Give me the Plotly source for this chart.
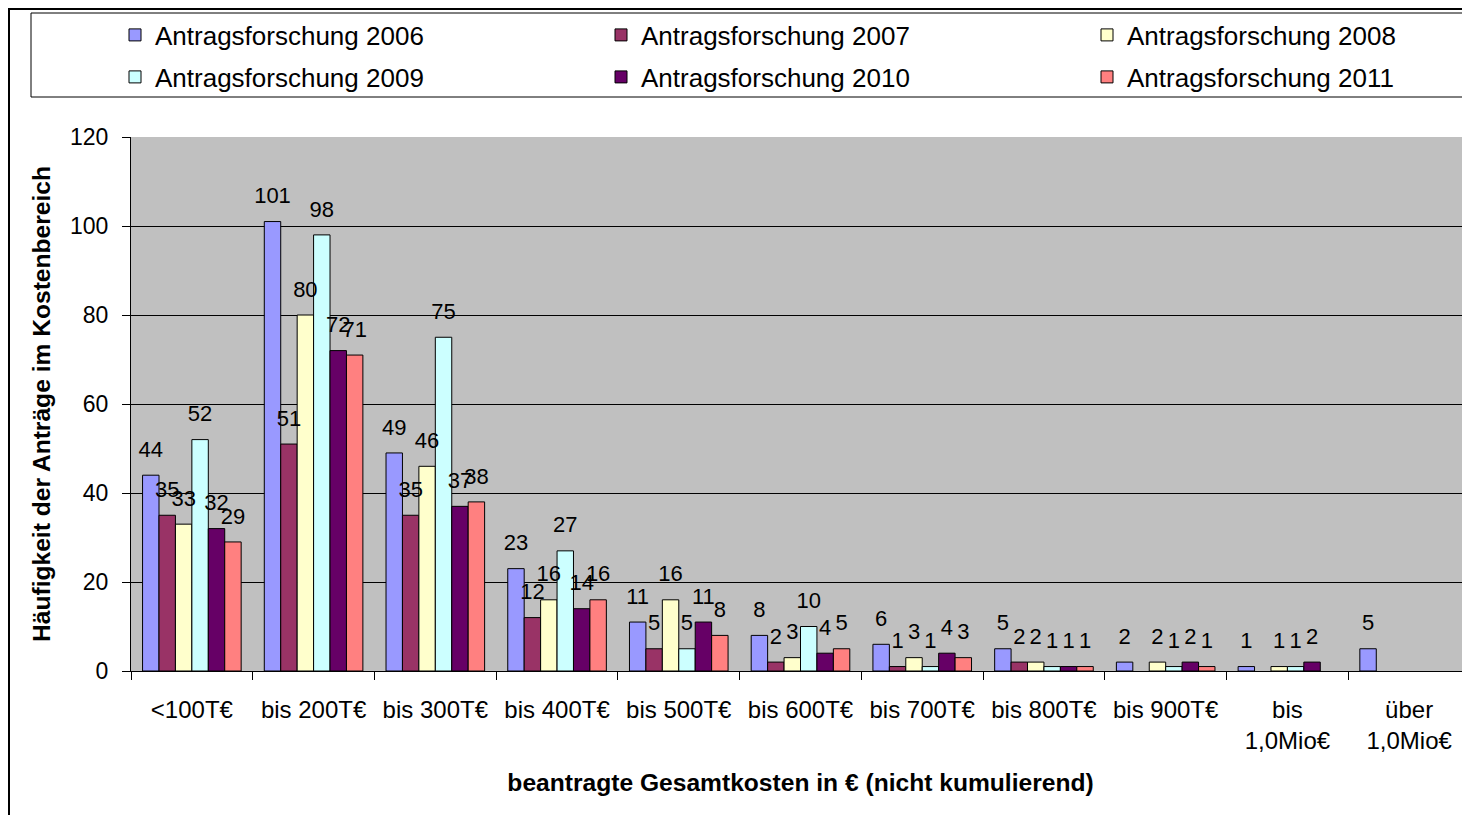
import plotly.graph_objects as go

categories = ["<100T€", "bis 200T€", "bis 300T€", "bis 400T€", "bis 500T€", "bis 600T€",
              "bis 700T€", "bis 800T€", "bis 900T€", "bis<br>1,0Mio€", "über<br>1,0Mio€"]
series_names = ["Antragsforschung 2006", "Antragsforschung 2007", "Antragsforschung 2008",
                "Antragsforschung 2009", "Antragsforschung 2010", "Antragsforschung 2011"]
v2006 = [44, 101, 49, 23, 11, 8, 6, 5, 2, 1, 5]
v2007 = [35, 51, 35, 12, 5, 2, 1, 2, None, None, None]
v2008 = [33, 80, 46, 16, 16, 3, 3, 2, 2, 1, None]
v2009 = [52, 98, 75, 27, 5, 10, 1, 1, 1, 1, None]
v2010 = [32, 72, 37, 14, 11, 4, 4, 1, 2, 2, None]
v2011 = [29, 71, 38, 16, 8, 5, 3, 1, 1, None, None]
series_values = [v2006, v2007, v2008, v2009, v2010, v2011]
colors = ["#9999FF", "#993366", "#FFFFCC", "#CCFFFF", "#660066", "#FF8080"]
y_ticks = [0, 20, 40, 60, 80, 100, 120]

# page offset (browser body margin) compensation
OFF = 8
W, H = 1470 - OFF, 815 - OFF
PL, PT, PB, PR = 131, 137, 671, 1470          # plot area in page pixels
L, T = PL - OFF, PT - OFF
B = H - (PB - OFF)
R = W - (PR - OFF)
pw, ph = PR - PL, PB - PT


def px_x(p):
    return (p - PL) / pw


def px_y(p):
    return (PB - p) / ph


FONT = "Liberation Sans, Arial, sans-serif"
GAP = 0.19

legend_names = ["legend", "legend2", "legend3", "legend4", "legend5", "legend6"]
legend_pos = [(115, 35), (601, 35), (1087, 35), (115, 77), (601, 77), (1087, 77)]

fig = go.Figure()
for i, (name, vals, col) in enumerate(zip(series_names, series_values, colors)):
    fig.add_trace(go.Bar(
        x=categories, y=vals, name=name,
        marker=dict(color=col, line=dict(color="black", width=1)),
        legend=legend_names[i],
        offsetgroup=str(i),
    ))
for i, vals in enumerate(series_values):
    fig.add_trace(go.Scatter(
        x=categories, y=vals, mode="markers+text",
        text=["" if v is None else str(v) for v in vals],
        textposition="top center",
        textfont=dict(family=FONT, size=22, color="black"),
        marker=dict(size=19, opacity=0),
        showlegend=False, hoverinfo="skip",
        offsetgroup=str(i),
        cliponaxis=False,
    ))

shapes = [
    # outer chart frame
    dict(type="rect", xref="paper", yref="paper",
         x0=px_x(9), x1=px_x(1500), y0=px_y(9), y1=px_y(850),
         line=dict(color="black", width=2), fillcolor="rgba(0,0,0,0)", layer="above"),
    # legend box
    dict(type="rect", xref="paper", yref="paper",
         x0=px_x(31), x1=px_x(1500), y0=px_y(13), y1=px_y(97),
         line=dict(color="black", width=1), fillcolor="white", layer="below"),
]

legends = {}
for ln, (lx, ly) in zip(legend_names, legend_pos):
    legends[ln] = dict(
        orientation="h", xanchor="left", yanchor="middle",
        x=px_x(lx), y=px_y(ly),
        font=dict(family=FONT, size=26, color="black"),
        bgcolor="rgba(0,0,0,0)", borderwidth=0,
    )

fig.update_layout(
    width=W, height=H,
    margin=dict(l=L, r=R, t=T, b=B, autoexpand=False),
    paper_bgcolor="white", plot_bgcolor="#C0C0C0",
    barmode="group", bargap=GAP, bargroupgap=0,
    scattermode="group", scattergap=GAP,
    font=dict(family=FONT, size=22, color="black"),
    showlegend=True,
    shapes=shapes,
    xaxis=dict(
        type="category", showline=True, linecolor="black", linewidth=1,
        ticks="outside", tickson="boundaries", ticklen=8, tickcolor="black",
        tickfont=dict(family=FONT, size=24, color="black"),
        ticklabelstandoff=17,
        showgrid=False, zeroline=False,
        title=dict(text="<b>beantragte Gesamtkosten in € (nicht kumulierend)</b>",
                   font=dict(family=FONT, size=24.6, color="black"), standoff=20),
    ),
    yaxis=dict(
        range=[0, 120], tickvals=y_ticks, showline=True, linecolor="black", linewidth=1,
        ticks="outside", ticklen=8, tickcolor="black",
        tickfont=dict(family=FONT, size=23, color="black"),
        ticklabelstandoff=9,
        showgrid=True, gridcolor="black", gridwidth=1, zeroline=False,
        title=dict(text="<b>Häufigkeit der Anträge im Kostenbereich</b>",
                   font=dict(family=FONT, size=24.6, color="black"), standoff=12),
    ),
    **legends,
)

fig.write_html("out.html")
